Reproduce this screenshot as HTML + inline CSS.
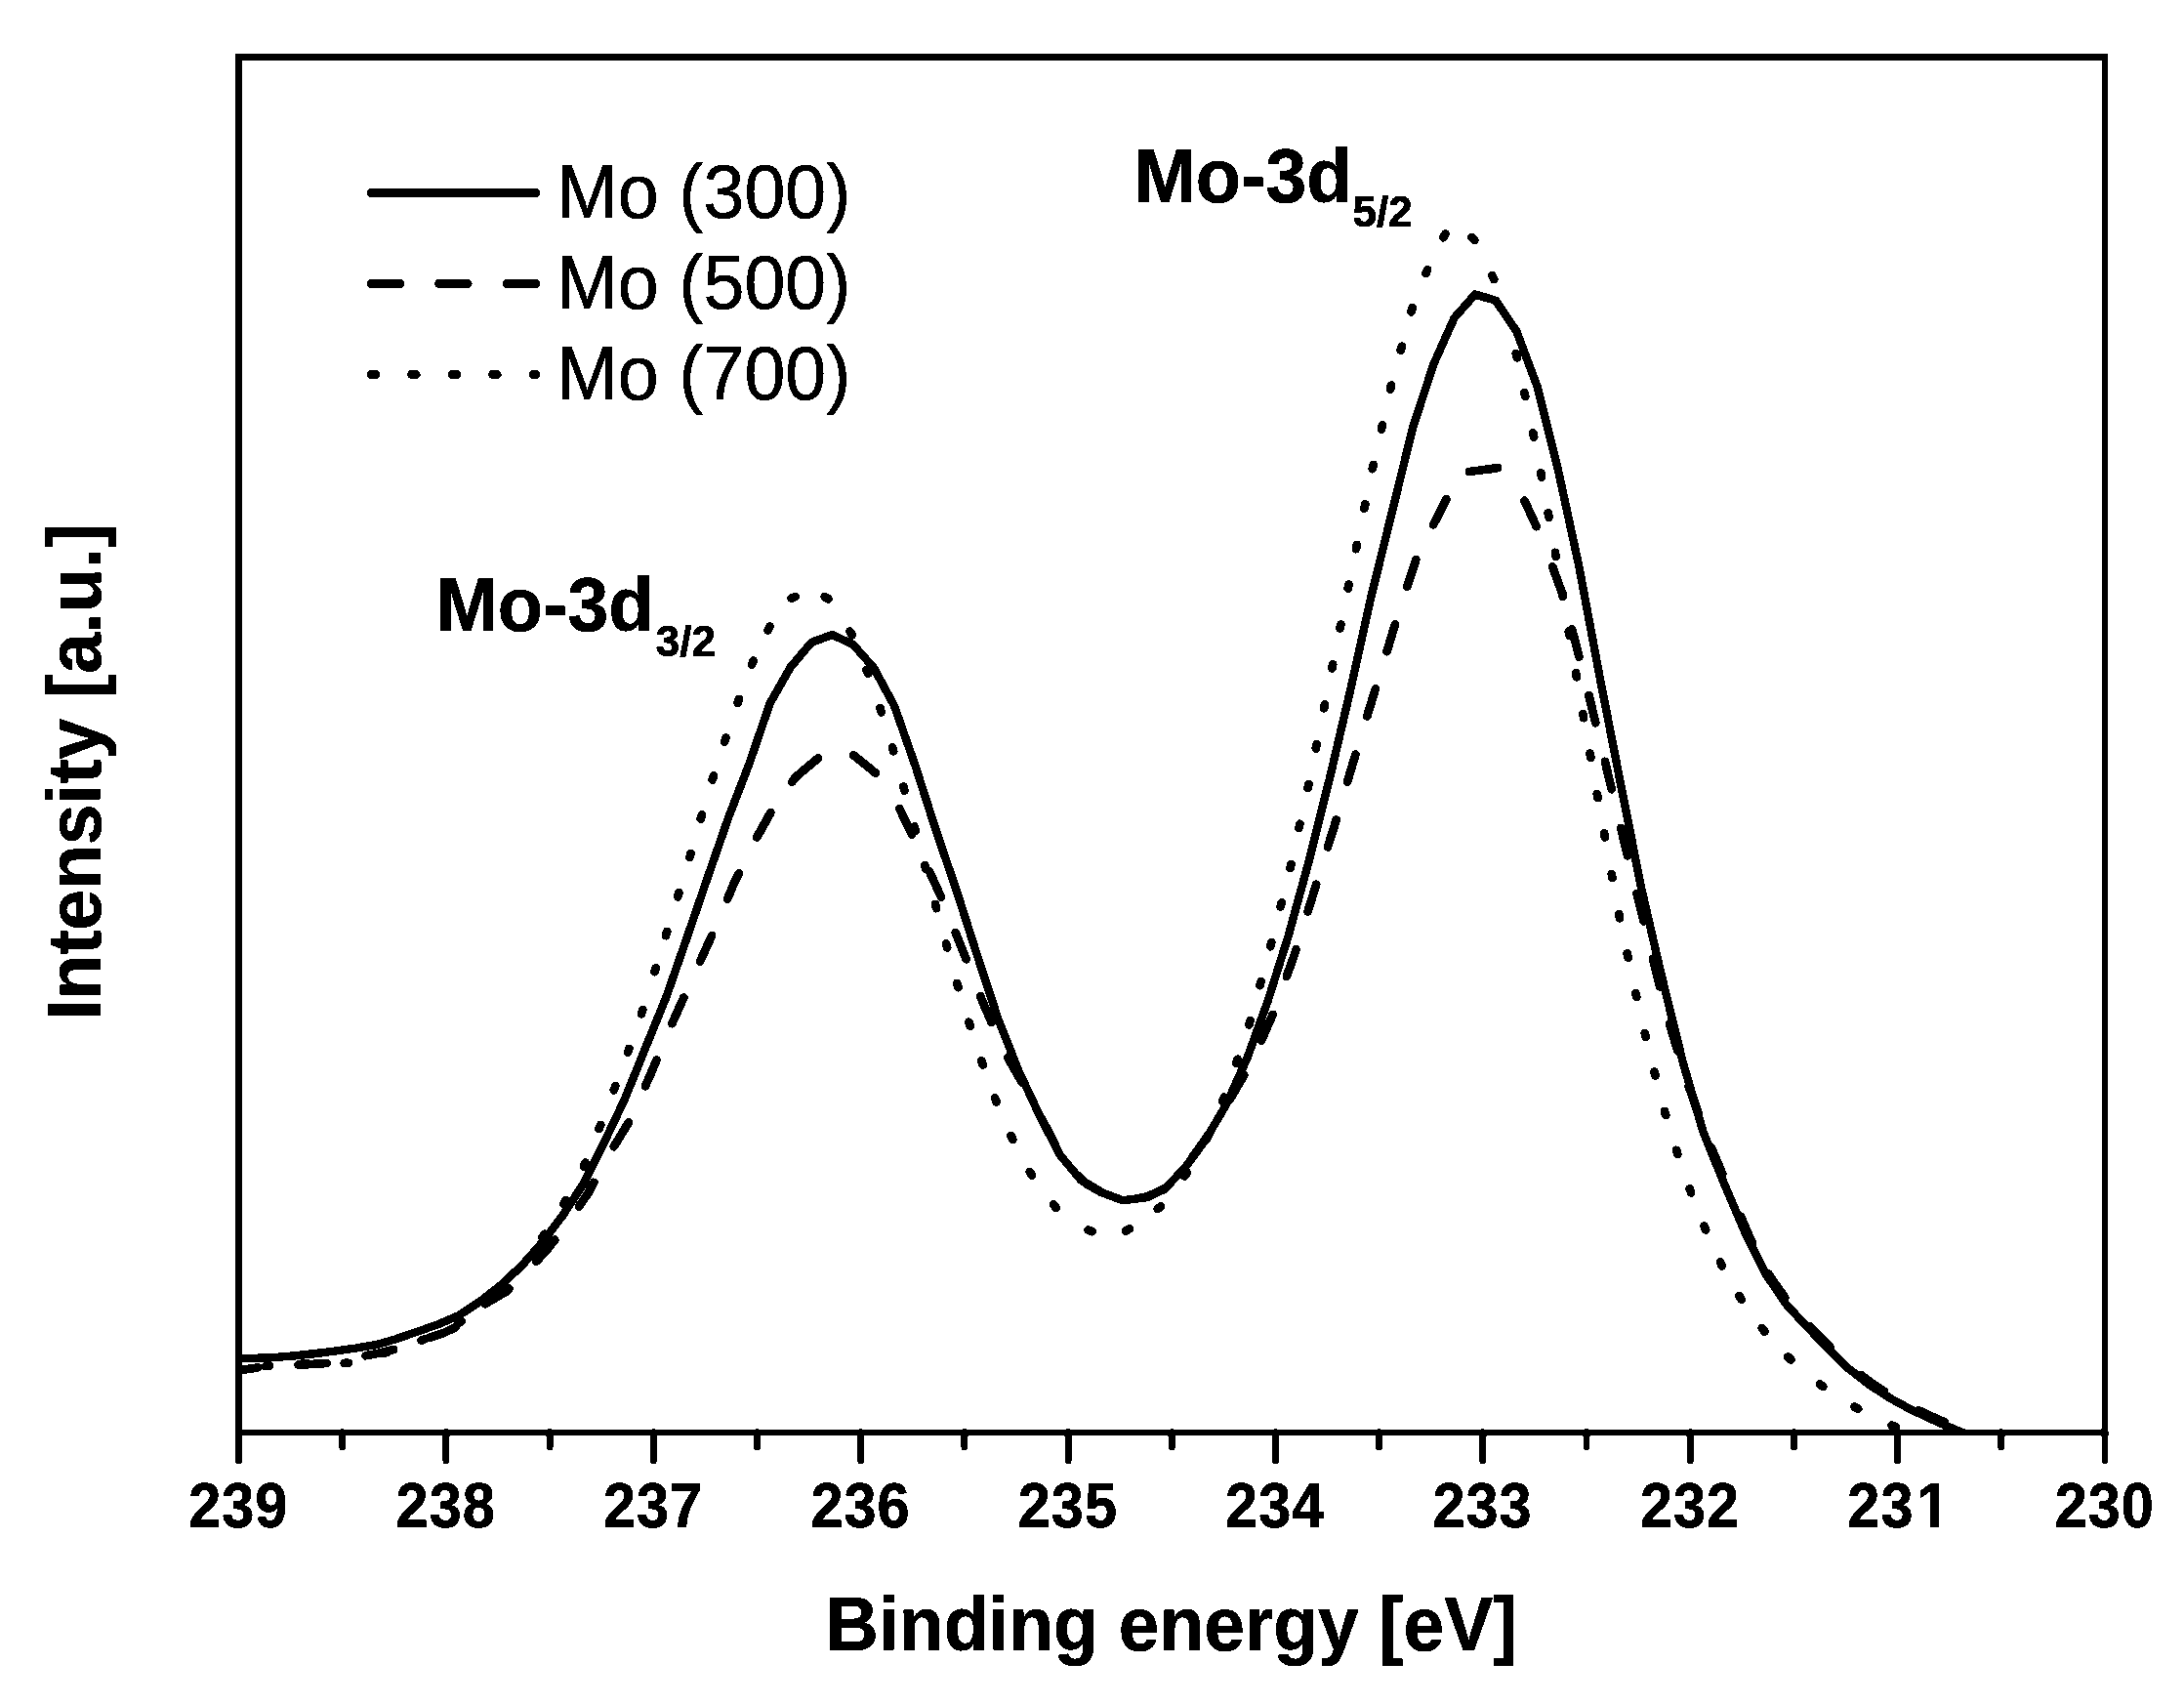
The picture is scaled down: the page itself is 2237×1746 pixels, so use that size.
<!DOCTYPE html>
<html lang="en"><head><meta charset="utf-8"><title>Mo-3d XPS spectra</title>
<style>
html,body{margin:0;padding:0;background:#fff;}
body{width:2237px;height:1746px;overflow:hidden;}
svg{display:block;}
text{font-family:"Liberation Sans",sans-serif;fill:#000;}
.tk{font-weight:700;font-size:62px;text-anchor:middle;letter-spacing:1px;stroke:#000;stroke-width:.6px;}
.ti{font-weight:700;font-size:75px;text-anchor:middle;stroke:#000;stroke-width:.5px;}
.an{font-weight:700;font-size:75.7px;stroke:#000;stroke-width:.5px;}
.sb{font-weight:700;font-size:44px;stroke:#000;stroke-width:.9px;}
.lg{font-size:75.3px;stroke:#000;stroke-width:0.5px;}
.c{fill:none;stroke:#000;stroke-linecap:round;}
.f{fill:none;stroke:#000;stroke-width:6.8;}
</style></head><body>
<svg width="2237" height="1746" viewBox="0 0 2237 1746" role="img" aria-label="Mo-3d XPS spectra">
<g filter="url(#bin)">
<rect x="0" y="0" width="2237" height="1746" fill="#fff"/>
<defs><filter id="bin" x="0" y="0" width="2237" height="1746" filterUnits="userSpaceOnUse" color-interpolation-filters="sRGB"><feComponentTransfer><feFuncR type="discrete" tableValues="0 1"/><feFuncG type="discrete" tableValues="0 1"/><feFuncB type="discrete" tableValues="0 1"/></feComponentTransfer></filter></defs>
<defs><clipPath id="cp"><rect x="244.5" y="58.5" width="1911.5" height="1409.5"/></clipPath></defs>
<g clip-path="url(#cp)">
<path class="c" stroke-width="8.8" d="M271.9 1399.1L276.1 1398.6M310.1 1396.3L314.4 1396.3M352.7 1396L357 1395.8M392.5 1386.1L396.6 1384.7M431.6 1372.6L435.6 1371M469.1 1355.4L472.6 1352.9M501.2 1329.5L504.3 1326.5M555.4 1267.3L557.7 1263.7M577.4 1232.8L579.4 1229.1M598 1194.5L599.6 1190.5M613.6 1155.9L615.2 1151.9M628.8 1116.3L630.3 1112.2M643 1077.9L644.4 1073.8M656.9 1038.3L658.3 1034.2M670.6 995.2L671.9 991.1M682 958.1L683.2 953.9M694.2 918.3L695.5 914.2M706.4 878L707.6 873.9M717.7 838.6L718.9 834.4M729.7 798.5L731 794.4M742.2 759.5L743.5 755.4M755.6 719.9L757 715.8M770 680.6L771.8 676.7M786.6 645.4L788.4 641.5M810.6 612.7L814.5 611M844.7 611.2L848.5 613.3M870.6 646.7L872.7 650.4M887.4 685.8L889.1 689.8M901.5 725.1L902.7 729.3M913.9 765.2L915.2 769.3M925.3 805.4L926.4 809.6M936.6 846.4L937.8 850.6M947.2 886L948.4 890.2M957.9 925.9L959.1 930.1M969 966.3L970.2 970.5M980.2 1006.9L981.5 1011M992.4 1046.6L993.6 1050.7M1005.2 1086.3L1006.7 1090.4M1019.1 1124.3L1020.6 1128.4M1035.5 1163.1L1037.3 1167M1054.8 1200L1057 1203.7M1079 1233.5L1081.8 1236.8M1114.6 1259.5L1118.6 1261.1M1153 1260.4L1156.8 1258.3M1185.7 1238.2L1189 1235.4M1213.4 1204.4L1215.7 1200.7M1236.4 1165.8L1238.1 1161.8M1252.3 1127.6L1253.9 1123.6M1266.3 1088.7L1267.7 1084.7M1279.4 1049.5L1280.5 1045.3M1290.5 1009.2L1291.6 1005M1301.3 969.3L1302.3 965.1M1311.7 928.6L1312.7 924.4M1321.5 889L1322.4 884.8M1330.5 847.9L1331.4 843.7M1339.5 807L1340.4 802.8M1347.8 766.5L1348.7 762.2M1356.1 725.4L1357 721.2M1364.4 684.4L1365.2 680.2M1372.5 643.6L1373.4 639.4M1380.7 602.6L1381.5 598.4M1388.9 562.1L1389.8 557.9M1397.4 520.6L1398.3 516.4M1405.8 480.1L1406.8 475.9M1414.9 439.5L1415.9 435.3M1424 398.8L1425 394.6M1434.7 358.7L1435.8 354.6M1445.5 319.3L1446.6 315.2M1460.5 280L1462.1 276M1478.3 243.2L1480.5 239.5M1507.4 242.8L1510.3 246M1528.4 282.2L1530.3 286.1M1552.7 362L1553.8 366.2M1561.4 401.9L1562.3 406.1M1570.3 443.4L1571.2 447.6M1578.3 484.3L1579.1 488.6M1585.7 525.3L1586.4 529.6M1592.9 565.9L1593.7 570.1M1600 606.7L1600.8 610.9M1606.8 646.6L1607.6 650.8M1614.1 689.2L1614.8 693.4M1621.3 730.8L1622.1 735.1M1628.5 771.4L1629.3 775.7M1635.8 813L1636.6 817.2M1643.1 853.2L1643.9 857.5M1650.7 894.9L1651.5 899.2M1658.2 936.1L1659 940.3M1666.7 976.4L1667.6 980.6M1675.4 1016.8L1676.3 1021M1684.8 1057.9L1685.8 1062M1694.5 1097.5L1695.5 1101.6M1705 1137.9L1706.2 1142M1717 1177.8L1718.3 1181.9M1730.6 1217.3L1732.1 1221.3M1745.4 1255.5L1747.2 1259.4M1762 1292.4L1763.7 1296.3M1781.4 1327.1L1783.6 1330.7M1804.8 1360.1L1807.4 1363.5M1831.3 1389.5L1834.5 1392.4M1863.9 1417.3L1867.3 1419.9M1899.5 1440.6L1903.3 1442.7M1937.6 1459.6L1941.6 1461.2"/>
<path class="c" stroke-width="8.8" d="M244.5 1403.5L263 1400.5L264.3 1400.4M305.5 1397.6L326.7 1396.6L334.6 1395.8M374.6 1388.3L390.4 1385.3L403.1 1382.1M439.8 1369.9L454.1 1365.2L466.8 1359M496.9 1335.2L517.9 1323L521.4 1319.6M549.3 1291.7L560.3 1279.8L568.3 1269.6M593 1235.6L602.8 1221.1L608.4 1210.8M628.7 1174.3L644 1149.4M660.9 1112.3L666.5 1099.8L672.5 1085.5M688.3 1048.2L700.3 1021.6M717 984.7L729.1 958.1M745 920.8L751.5 905.4L757 894.2M775.2 857.5L789.4 832M811.3 800.7L815.2 795.5L836.5 777.6L837.8 776.5M874.2 773.3L878.9 777.1L896.9 791.7M921.4 828.2L934.2 854.5M951.9 892.2L964 918.8M978.8 955.2L985.1 970.8L989.6 982.3M1004.2 1020L1006.4 1025.8L1015.6 1046.9M1032.3 1083L1046.7 1108.4M1066.4 1144.8L1070.1 1151.7L1080.1 1170.6M1103.8 1203.8L1112.6 1212.2L1127.5 1220.5M1167.3 1226.9L1176.3 1225.4L1194.2 1216.3M1221.1 1185.3L1238.3 1161.7M1259.5 1126.2L1261.3 1123.2L1274.4 1101M1292 1065.6L1303.7 1038.8M1317.9 999.8L1325 980.2L1327.5 972.2M1339.5 933.5L1346.2 912L1348.2 905.6M1360 867.3L1367.5 843.4L1368.6 839.4M1380.1 800.6L1388.4 772.6M1400.3 733.4L1408.8 705.5M1420.5 667.1L1429 639.2M1441.4 600.7L1450.4 572.9M1468.1 537.2L1473.7 526.7L1481.4 511.2M1505 483L1516.1 481.5L1534 479.1M1561.4 512.7L1573.7 539.2M1590.2 580.4L1600.2 607.8M1610.1 644.4L1617.5 672.6M1627.4 711.9L1634.3 740.3M1644 779.9L1650.7 808.3M1660.2 847.8L1664.8 867.2L1667 876.2M1676.6 915L1683.6 943.3M1693.1 981.8L1700 1010.2M1709.9 1048.2L1718.4 1076.1M1729.7 1112.4L1739.6 1139.8M1752.8 1175.3L1764.3 1202.2M1783.1 1245.9L1792.3 1267.4L1795 1272.5M1811.8 1304.7L1813.5 1307.9L1828.3 1328.8M1854.3 1358.6L1856 1360.3L1874.6 1379.6M1906 1408L1919.7 1418.2L1929.9 1424.7M1965.1 1444.3L1983.4 1452.8L1991.7 1456.4M2029.2 1471.8L2031 1472.5"/>
<path class="c" stroke-width="8.4" stroke-linejoin="miter" d="M244.5 1391.1 L257.7 1390.9 L278.9 1390.1 L300.2 1388.5 L321.4 1386.3 L342.6 1383.7 L363.9 1380.7 L385.1 1377.2 L406.4 1371 L427.6 1363.6 L448.8 1356.1 L470.1 1347 L491.3 1333.1 L512.6 1316.4 L533.8 1296.7 L555 1272.7 L576.3 1244.9 L597.5 1212.4 L618.8 1169.8 L640 1125.3 L661.2 1072.9 L682.5 1020.8 L703.7 959.8 L725 898 L746.2 837 L767.4 782.2 L788.7 720.1 L809.9 683 L831.2 657.8 L852.4 650 L873.6 659.9 L894.9 683.8 L916.1 723.1 L937.4 783.8 L958.6 850.1 L979.8 912.1 L1001.1 979 L1022.3 1043.2 L1043.6 1097.2 L1064.8 1142.1 L1086 1183.1 L1107.3 1208.4 L1128.5 1221.2 L1149.8 1229.2 L1171 1226.6 L1192.2 1218.1 L1213.5 1196.1 L1234.7 1167.3 L1256 1131.1 L1277.2 1084.2 L1298.4 1025.6 L1319.7 958.2 L1340.9 880.9 L1362.2 796.1 L1383.4 705.5 L1404.6 610.2 L1425.9 524 L1447.1 437.9 L1468.4 372.7 L1489.6 325.5 L1510.8 301.5 L1532.1 307.8 L1553.3 339.3 L1574.6 395.9 L1595.8 480.8 L1617 578.3 L1638.3 691.9 L1659.5 800.2 L1680.8 907.9 L1702 999.6 L1723.2 1085.8 L1744.5 1159 L1765.7 1211.4 L1787 1261.2 L1808.2 1304.1 L1829.4 1335.5 L1850.7 1358.7 L1871.9 1380.4 L1893.2 1401.4 L1914.4 1417.7 L1935.6 1431.6 L1956.9 1443.3 L1978.1 1453.2 L1999.4 1462.6 L2020.6 1471.4 L2030 1475"/>
</g>
<rect class="f" x="244.5" y="58.5" width="1911.5" height="1408.5"/>
<path class="f" stroke-linecap="round" d="M244.5 1467 V1496 M350.7 1467 V1482 M456.9 1467 V1496 M563.1 1467 V1482 M669.3 1467 V1496 M775.5 1467 V1482 M881.7 1467 V1496 M987.9 1467 V1482 M1094.1 1467 V1496 M1200.2 1467 V1482 M1306.4 1467 V1496 M1412.6 1467 V1482 M1518.8 1467 V1496 M1625 1467 V1482 M1731.2 1467 V1496 M1837.4 1467 V1482 M1943.6 1467 V1496 M2049.8 1467 V1482 M2156 1467 V1496"/>
<text class="tk" transform="translate(244.3 1563.7) scale(0.96 1.055)">239</text>
<text class="tk" transform="translate(456.7 1563.7) scale(0.96 1.055)">238</text>
<text class="tk" transform="translate(669.1 1563.7) scale(0.96 1.055)">237</text>
<text class="tk" transform="translate(881.5 1563.7) scale(0.96 1.055)">236</text>
<text class="tk" transform="translate(1093.9 1563.7) scale(0.96 1.055)">235</text>
<text class="tk" transform="translate(1306.2 1563.7) scale(0.96 1.055)">234</text>
<text class="tk" transform="translate(1518.6 1563.7) scale(0.96 1.055)">233</text>
<text class="tk" transform="translate(1731 1563.7) scale(0.96 1.055)">232</text>
<text class="tk" transform="translate(1944.9 1563.7) scale(0.96 1.055)">23<tspan dx="3.1">1</tspan></text>
<path fill="#fff" d="M1964 1556h13v9h-13zM1986 1556h13v9h-13z"/>
<text class="tk" transform="translate(2155.8 1563.7) scale(0.96 1.055)">230</text>
<text class="ti" transform="translate(1200 1689.6) scale(1 1.03)">Binding energy [eV]</text>
<text class="ti" transform="translate(102.7 790.1) rotate(-90) scale(1 1.03)">Intensity [a.u.]</text>
<path class="c" stroke-width="9.2" d="M380.3 197.5 H548.5"/>
<path class="c" stroke-width="9.2" stroke-dasharray="29.2 40.3" d="M380.3 290.4 H548.5"/>
<path class="c" stroke-width="9.2" stroke-dasharray="4.3 37.2" d="M380.3 383.4 H548.5"/>
<text class="lg" transform="translate(570 223) scale(1 1.028)">Mo (300)</text>
<text class="lg" transform="translate(570 316.1) scale(1 1.028)">Mo (500)</text>
<text class="lg" transform="translate(570 409.3) scale(1 1.028)">Mo (700)</text>
<text class="an" transform="translate(446.7 645.7) scale(1 1.035)">Mo-3d</text>
<text class="sb" transform="translate(671.8 671.5)">3/2</text>
<text class="an" transform="translate(1161.7 206.6) scale(1 1.035)">Mo-3d</text>
<text class="sb" transform="translate(1385.6 232.3)">5/2</text>
</g>
</svg>
</body></html>
